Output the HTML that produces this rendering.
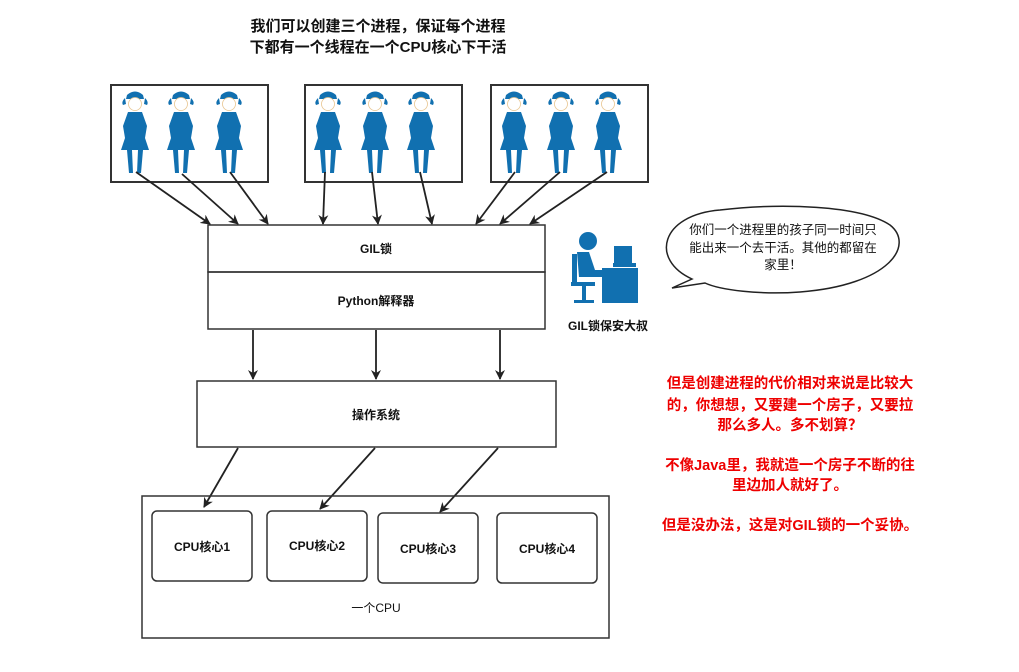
<!DOCTYPE html>
<html><head><meta charset="utf-8"><style>
html,body{margin:0;padding:0;background:#fff;}
svg{display:block;font-family:"Liberation Sans","Noto Sans CJK SC",sans-serif;}
</style></head><body>
<svg width="1019" height="672" viewBox="0 0 1019 672" xmlns="http://www.w3.org/2000/svg">
<defs>
<marker id="ah" markerWidth="10" markerHeight="10" refX="9" refY="5" orient="auto" markerUnits="userSpaceOnUse">
<path d="M0,0 L10,5 L0,10 L3,5 z" fill="#222"/></marker>
<g id="girl" fill="#1170b0">
<path d="M-8,-33 Q0,-40 8,-33 L9,-29 L-9,-29 z"/>
<path d="M-10,-30 q-4,4 -2,7 l3,-1 z M10,-30 q4,4 2,7 l-3,-1 z"/>
<circle cx="0" cy="-24" r="6.5" fill="#fff" stroke="#e8c590" stroke-width="0.8"/>
<path d="M-7,-16 L7,-16 L12,-2 L10,10 L14,22 L-14,22 L-10,10 L-12,-2 z"/>
<path d="M-8,22 L-3,22 L-2,45 L-6,45 z M3,22 L8,22 L6,45 L2,45 z"/>
</g>
</defs>
<text x="378" y="31" font-size="15" font-weight="bold" text-anchor="middle" fill="#111">我们可以创建三个进程，保证每个进程</text>
<text x="378" y="52" font-size="15" font-weight="bold" text-anchor="middle" fill="#111">下都有一个线程在一个CPU核心下干活</text>

<g fill="none" stroke="#333" stroke-width="2">
<rect x="111" y="85" width="157" height="97"/>
<rect x="305" y="85" width="157" height="97"/>
<rect x="491" y="85" width="157" height="97"/>
</g>
<use href="#girl" x="135" y="128"/><use href="#girl" x="181" y="128"/><use href="#girl" x="229" y="128"/>
<use href="#girl" x="328" y="128"/><use href="#girl" x="375" y="128"/><use href="#girl" x="421" y="128"/>
<use href="#girl" x="514" y="128"/><use href="#girl" x="561" y="128"/><use href="#girl" x="608" y="128"/>

<g stroke="#222" stroke-width="1.8" marker-end="url(#ah)">
<line x1="136" y1="172" x2="210" y2="224"/>
<line x1="182" y1="174" x2="238" y2="224"/>
<line x1="230" y1="172" x2="268" y2="224"/>
<line x1="325" y1="172" x2="323" y2="224"/>
<line x1="372" y1="172" x2="378" y2="224"/>
<line x1="420" y1="172" x2="432" y2="224"/>
<line x1="515" y1="172" x2="476" y2="224"/>
<line x1="560" y1="172" x2="500" y2="224"/>
<line x1="607" y1="172" x2="530" y2="224"/>
<line x1="253" y1="330" x2="253" y2="379"/>
<line x1="376" y1="330" x2="376" y2="379"/>
<line x1="500" y1="330" x2="500" y2="379"/>
<line x1="238" y1="448" x2="204" y2="507"/>
<line x1="375" y1="448" x2="320" y2="509"/>
<line x1="498" y1="448" x2="440" y2="512"/>
</g>

<g fill="none" stroke="#333" stroke-width="1.5">
<rect x="208" y="225" width="337" height="47"/>
<rect x="208" y="272" width="337" height="57"/>
<rect x="197" y="381" width="359" height="66"/>
<rect x="142" y="496" width="467" height="142"/>
<rect x="152" y="511" width="100" height="70" rx="5"/>
<rect x="267" y="511" width="100" height="70" rx="5"/>
<rect x="378" y="513" width="100" height="70" rx="5"/>
<rect x="497" y="513" width="100" height="70" rx="5"/>
</g>
<g font-size="12" font-weight="bold" text-anchor="middle" fill="#111">
<text x="376" y="253">GIL锁</text>
<text x="376" y="305">Python解释器</text>
<text x="376" y="419">操作系统</text>
<text x="202" y="551">CPU核心1</text>
<text x="317" y="550">CPU核心2</text>
<text x="428" y="553">CPU核心3</text>
<text x="547" y="553">CPU核心4</text>
<text x="376" y="612" font-weight="normal">一个CPU</text>
<text x="608" y="330">GIL锁保安大叔</text>
</g>

<g fill="#1170b0">
<circle cx="588" cy="241" r="9"/>
<path d="M577,252 h12 l6,18 h20 v7 h-36 z"/>
<rect x="572" y="254" width="5" height="28"/>
<rect x="571" y="282" width="24" height="4"/>
<rect x="582" y="286" width="4" height="14"/>
<rect x="574" y="300" width="20" height="3"/>
<rect x="602" y="268" width="36" height="35"/>
<rect x="614" y="246" width="18" height="17"/>
<rect x="613" y="263" width="23" height="4"/>
</g>

<path d="M692,279 C650,260 660,215 720,210 C780,203 860,205 890,225 C915,245 890,285 800,292 C760,295 720,290 705,283 L672,288 Z" fill="#fff" stroke="#222" stroke-width="1.5"/>
<g font-size="12.5" text-anchor="middle" fill="#111">
<text x="783" y="234">你们一个进程里的孩子同一时间只</text>
<text x="783" y="252">能出来一个去干活。其他的都留在</text>
<text x="783" y="269">家里！</text>
</g>

<g font-size="14.5" font-weight="bold" text-anchor="middle" fill="#e00">
<text x="790" y="388">但是创建进程的代价相对来说是比较大</text>
<text x="790" y="410">的，你想想，又要建一个房子，又要拉</text>
<text x="790" y="430">那么多人。多不划算？</text>
<text x="790" y="470">不像Java里，我就造一个房子不断的往</text>
<text x="790" y="490">里边加人就好了。</text>
<text x="790" y="530">但是没办法，这是对GIL锁的一个妥协。</text>
</g>
</svg>
</body></html>
